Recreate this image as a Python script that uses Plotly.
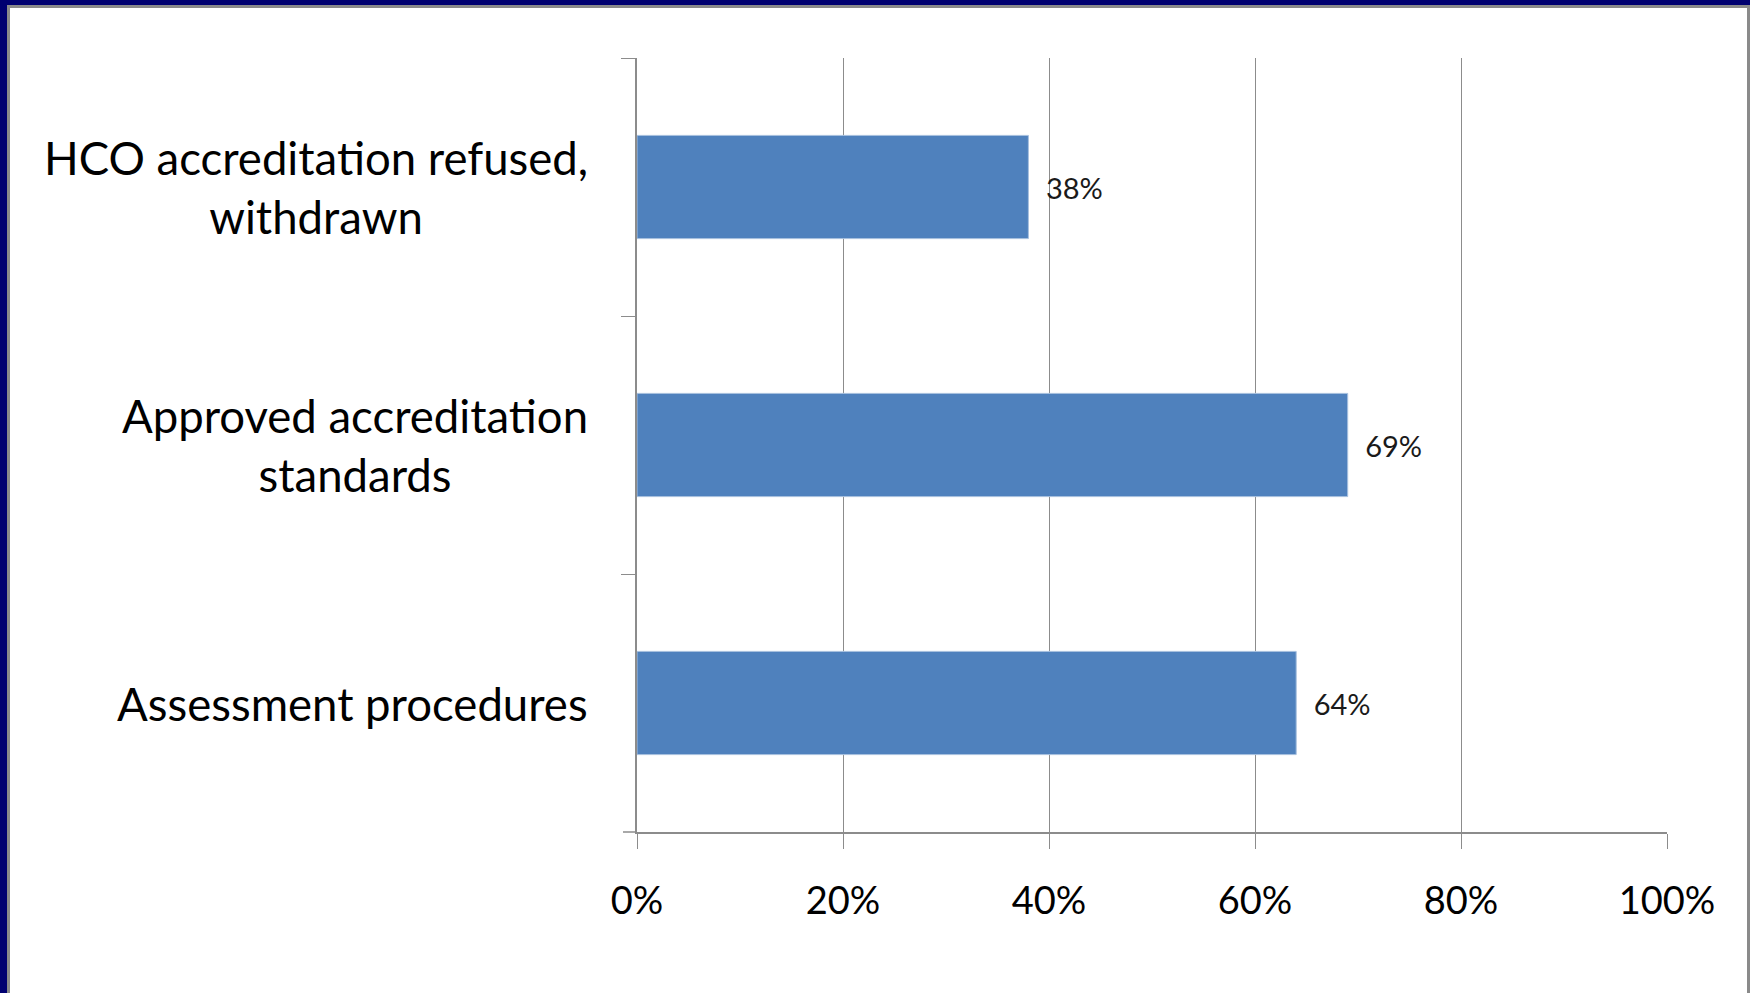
import plotly.graph_objects as go

# ---- data ----
categories = ["HCO accreditation refused,<br>withdrawn",
              "Approved accreditation<br>standards",
              "Assessment procedures"]
values = [38, 69, 64]
x_tick_vals = [0, 20, 40, 60, 80, 100]
x_tick_text = ["0%", "20%", "40%", "60%", "80%", "100%"]

# ---- layout geometry (px) ----
W, H = 1750, 993
L, R, T, B = 637, 83, 58, 161
PW, PH = W - L - R, H - T - B

def px_x(px):
    return (px - L) / PW

def px_y(py):
    return (H - B - py) / PH

BAR = "#4F81BD"
GRID = "#8C8C8C"
FONT = "Lato"

fig = go.Figure()
fig.add_trace(go.Bar(
    x=values, y=categories, orientation="h",
    marker=dict(color=BAR, line=dict(color="#A7C0DE", width=1)),
    text=[f"\u2002{v}%" for v in values],
    textposition="outside",
    textfont=dict(family=FONT, size=29, color="#1a1a1a"),
    cliponaxis=False,
    width=0.4,
    hoverinfo="skip",
))

annotations = []
for c in categories:
    annotations.append(dict(
        x=0, xref="paper", y=c, yref="y",
        text=c, showarrow=False, xanchor="right", yanchor="middle",
        align="center", xshift=-47,
        font=dict(family=FONT, size=45.5, color="#000000"),
    ))

shapes = [
    # white slide area with grey inner edge
    dict(type="rect", xref="paper", yref="paper", layer="below",
         x0=px_x(8.5), x1=px_x(1748.5), y0=px_y(1010), y1=px_y(6.5),
         fillcolor="#FFFFFF", line=dict(color="#8A8A8A", width=3)),
    # category-boundary tick at the bottom of the value axis
    dict(type="line", xref="paper", yref="paper", layer="above",
         x0=px_x(623), x1=0, y0=0, y1=0,
         line=dict(color=GRID, width=1.5)),
]

fig.update_layout(
    width=W, height=H,
    margin=dict(l=L, r=R, t=T, b=B, pad=0),
    paper_bgcolor="#000070",
    plot_bgcolor="#FFFFFF",
    showlegend=False,
    bargap=0.6,
    annotations=annotations,
    shapes=shapes,
    font=dict(family=FONT, color="#000000"),
)
fig.update_xaxes(
    range=[0, 100], tickvals=x_tick_vals, ticktext=x_tick_text,
    showgrid=True, gridcolor=GRID, gridwidth=1.3,
    showline=True, linecolor=GRID, linewidth=1.5,
    ticks="outside", ticklen=15, tickcolor=GRID, tickwidth=1.3,
    tickfont=dict(family=FONT, size=38, color="#000000"),
    ticklabelstandoff=20,
    zeroline=False, fixedrange=True,
)
fig.update_yaxes(
    type="category", categoryorder="array", categoryarray=categories,
    autorange="reversed",
    showticklabels=False, showgrid=False,
    showline=True, linecolor=GRID, linewidth=1.5,
    ticks="outside", tickson="boundaries", ticklen=14,
    tickcolor=GRID, tickwidth=1.3,
    zeroline=False, fixedrange=True,
)

fig.write_html(
    "out.html",
    config={"displayModeBar": False},
    post_script="document.body.style.margin='0';document.body.style.background='#000070';document.documentElement.style.overflow='hidden';",
)
